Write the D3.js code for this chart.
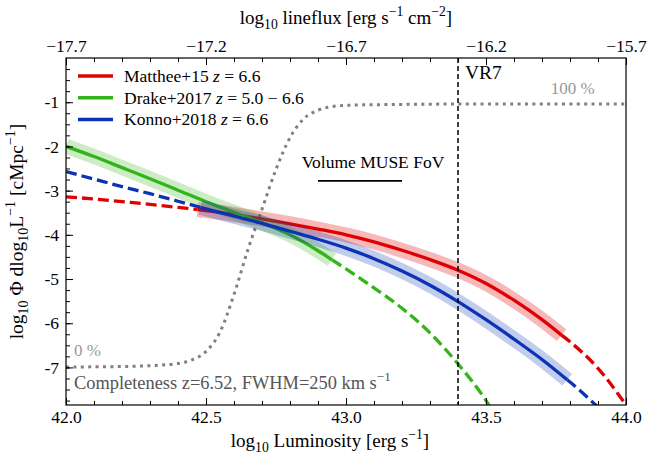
<!DOCTYPE html>
<html><head><meta charset="utf-8">
<script src="https://cdn.jsdelivr.net/npm/d3@7"></script>
<style>body{margin:0;background:#fff}</style>
</head><body>
<svg id="c" width="658" height="459"></svg>
<script>
// ---------- data ----------
const lumGrid = [42.0,42.1,42.2,42.3,42.4,42.5,42.6,42.7,42.8,42.9,43.0,43.1,43.2,43.3,43.4,43.5,43.6,43.7,43.8,43.9,44.0];
const matthee15 = [-3.14,-3.19,-3.25,-3.31,-3.38,-3.45,-3.54,-3.64,-3.75,-3.87,-4.00,-4.16,-4.35,-4.56,-4.80,-5.10,-5.48,-5.92,-6.42,-7.02,-7.85];
const drakeLum = [42.0,42.1,42.2,42.3,42.4,42.5,42.6,42.7,42.8,42.9,43.0,43.1,43.2,43.3,43.4,43.5,43.52];
const drake2017 = [-2.00,-2.23,-2.48,-2.73,-2.99,-3.25,-3.49,-3.73,-4.00,-4.36,-4.77,-5.20,-5.66,-6.22,-6.92,-7.75,-7.95];
const konnoLum = [42.0,42.1,42.2,42.3,42.4,42.5,42.6,42.7,42.8,42.9,43.0,43.1,43.2,43.3,43.4,43.5,43.6,43.7,43.8,43.9];
const konno2018 = [-2.57,-2.74,-2.91,-3.07,-3.24,-3.41,-3.58,-3.74,-3.92,-4.10,-4.30,-4.54,-4.82,-5.14,-5.51,-5.92,-6.36,-6.82,-7.33,-7.90];
const fitRangeMatthee = [42.47, 43.77];
const fitRangeDrake = [42.0, 42.95];
const fitRangeKonno = [42.48, 43.79];
const complLum = [42.0,42.2,42.3,42.4,42.45,42.5,42.55,42.6,42.65,42.7,42.75,42.8,42.85,42.9,42.95,43.0,43.2,43.5,44.0];
const complVal = [-6.99,-6.98,-6.96,-6.91,-6.83,-6.64,-6.20,-5.35,-4.33,-3.42,-2.52,-1.80,-1.37,-1.18,-1.10,-1.07,-1.05,-1.04,-1.04];
const vr7Lum = 43.4;
const museVolume = -2.78;
const museRange = [42.9, 43.2];
const xTicks = [42.0,42.5,43.0,43.5,44.0];
const yTicks = [-1,-2,-3,-4,-5,-6,-7];
const topTicks = [-17.7,-17.2,-16.7,-16.2,-15.7];
const legendLabels = [["Matthee+15 ","z"," = 6.6"],["Drake+2017 ","z"," = 5.0 − 6.6"],["Konno+2018 ","z"," = 6.6"]];

// ---------- layout ----------
const W = 658, H = 459;
const m = {l:66, r:32, t:58, b:54};
const pw = W - m.l - m.r, ph = H - m.t - m.b;
const FONT = "Liberation Serif, Times New Roman, serif";
const colors = {red:"#e00000", green:"#33b51a", blue:"#0a33b5"};

const svg = d3.select("#c");
const g = svg.append("g").attr("transform", `translate(${m.l},${m.t})`);
const x = d3.scaleLinear().domain([42,44]).range([0,pw]);
const xTop = d3.scaleLinear().domain([-17.7,-15.7]).range([0,pw]);
const y = d3.scaleLinear().domain([-7.85,0]).range([ph,0]);

svg.append("defs").append("clipPath").attr("id","plotclip")
  .append("rect").attr("width",pw).attr("height",ph);
const plot = g.append("g").attr("clip-path","url(#plotclip)");

function interp(xs, ys, v){
  for(let i=0;i<xs.length-1;i++){
    if(v>=xs[i] && v<=xs[i+1]){ const t=(v-xs[i])/(xs[i+1]-xs[i]); return ys[i]+t*(ys[i+1]-ys[i]); }
  }
  return v<xs[0]? ys[0] : ys[ys.length-1];
}
function seg(xs, ys, lo, hi){
  const pts=[[lo, interp(xs,ys,lo)]];
  xs.forEach((v,i)=>{ if(v>lo+1e-9 && v<hi-1e-9) pts.push([v, ys[i]]); });
  pts.push([hi, interp(xs,ys,hi)]);
  return pts;
}
const line = d3.line().x(d=>x(d[0])).y(d=>y(d[1])).curve(d3.curveMonotoneX);

// completeness curve
plot.append("path").datum(complLum.map((v,i)=>[v, complVal[i]]))
  .attr("d", line).attr("fill","none").attr("stroke","#808080")
  .attr("stroke-width",3).attr("stroke-dasharray","3,4.4");

function series(xs, ys, range, col, bandOp){
  const lo=xs[0], hi=xs[xs.length-1];
  const fit = seg(xs, ys, range[0], range[1]);
  plot.append("path").datum(fit).attr("d",line).attr("fill","none")
    .attr("stroke",col).attr("stroke-opacity",bandOp).attr("stroke-width",15).attr("stroke-linecap","butt");
  if(range[0]>lo+1e-6) plot.append("path").datum(seg(xs,ys,lo,range[0])).attr("d",line).attr("fill","none")
    .attr("stroke",col).attr("stroke-width",3.3).attr("stroke-dasharray","11,5");
  if(range[1]<hi-1e-6) plot.append("path").datum(seg(xs,ys,range[1],hi)).attr("d",line).attr("fill","none")
    .attr("stroke",col).attr("stroke-width",3.3).attr("stroke-dasharray","11,5");
  plot.append("path").datum(fit).attr("d",line).attr("fill","none")
    .attr("stroke",col).attr("stroke-width",3.3);
}
series(lumGrid, matthee15, fitRangeMatthee, colors.red, 0.28);
series(drakeLum, drake2017, fitRangeDrake, colors.green, 0.25);
series(konnoLum, konno2018, fitRangeKonno, colors.blue, 0.25);

// VR7 line
plot.append("line").attr("x1",x(vr7Lum)).attr("x2",x(vr7Lum)).attr("y1",0).attr("y2",ph)
  .attr("stroke","#000").attr("stroke-width",1.5).attr("stroke-dasharray","5,3");
g.append("text").attr("x",x(vr7Lum)+7).attr("y",21).attr("font-family",FONT).attr("font-size",19.5).text("VR7");

// MUSE volume
g.append("line").attr("x1",x(museRange[0])).attr("x2",x(museRange[1])).attr("y1",y(museVolume)).attr("y2",y(museVolume))
  .attr("stroke","#000").attr("stroke-width",1.6);
g.append("text").attr("x",(x(museRange[0])+x(museRange[1]))/2+13).attr("y",y(museVolume)-13)
  .attr("text-anchor","middle").attr("font-family",FONT).attr("font-size",17.5).text("Volume MUSE FoV");

// completeness annotations
g.append("text").attr("x",x(43.81)).attr("y",y(-1.04)-10).attr("text-anchor","middle")
  .attr("font-family",FONT).attr("font-size",17).attr("fill","#999").text("100 %");
g.append("text").attr("x",8).attr("y",y(-6.99)-11)
  .attr("font-family",FONT).attr("font-size",17).attr("fill","#999").text("0 %");

function rich(t, parts, fs){
  let cur=0;
  parts.forEach(p=>{
    const [s,k,it]=p;
    const off = k==='sub'? fs*0.28 : k==='sup' ? -fs*0.42 : 0;
    const ts=t.append("tspan").attr("dy", off-cur).attr("font-size", k==='n'?fs:fs*0.72).text(s);
    if(it) ts.attr("font-style","italic");
    cur=off;
  });
}
const ct = g.append("text").attr("x",8).attr("y",y(-6.99)+22).attr("font-family",FONT).attr("fill","#555");
rich(ct, [["Completeness z=6.52, FWHM=250 km s",'n'],["−1",'sup']], 18.4);

// legend
const legCols=[colors.red,colors.green,colors.blue];
legendLabels.forEach((lab,i)=>{
  const yy = 18 + i*21.7;
  g.append("line").attr("x1",12).attr("x2",47).attr("y1",yy).attr("y2",yy).attr("stroke",legCols[i]).attr("stroke-width",3.5);
  const t=g.append("text").attr("x",58).attr("y",yy+6).attr("font-family",FONT);
  rich(t, [[lab[0],'n'],[lab[1],'n',true],[lab[2],'n']], 17.5);
});

// axes
function styleAxis(sel){
  sel.selectAll("path").remove();
  sel.selectAll("line").attr("stroke","#000").attr("stroke-width",1);
  sel.selectAll("text").attr("font-family",FONT).attr("font-size",17.5).attr("fill","#000");
}
const minorX = d3.range(42.0,44.001,0.1);
const minorY = d3.range(-7.75,-0.001,0.25);
const minorTop = d3.range(-17.7,-15.699,0.1);
g.append("g").attr("transform",`translate(0,${ph})`).call(d3.axisBottom(x).tickValues(minorX).tickSize(-4).tickFormat("")).call(styleAxis);
g.append("g").attr("transform",`translate(0,${ph})`).call(d3.axisBottom(x).tickValues(xTicks).tickSize(-7).tickPadding(6).tickFormat(d3.format(".1f"))).call(styleAxis);
g.append("g").call(d3.axisLeft(y).tickValues(minorY).tickSize(-4).tickFormat("")).call(styleAxis);
g.append("g").call(d3.axisLeft(y).tickValues(yTicks).tickSize(-7).tickPadding(7).tickFormat(d=>String(d))).call(styleAxis);
g.append("g").call(d3.axisTop(xTop).tickValues(minorTop).tickSize(-4).tickFormat("")).call(styleAxis);
g.append("g").call(d3.axisTop(xTop).tickValues(topTicks).tickSize(-7).tickPadding(6).tickFormat(d=>d3.format(".1f")(d).replace("-","−"))).call(styleAxis);
g.append("rect").attr("width",pw).attr("height",ph).attr("fill","none").attr("stroke","#000").attr("stroke-width",1.2);

// axis titles
const bt = svg.append("text").attr("x",m.l+pw/2-16).attr("y",H-12).attr("text-anchor","middle").attr("font-family",FONT);
rich(bt, [["log",'n'],["10",'sub'],[" Luminosity [erg s",'n'],["−1",'sup'],["]",'n']], 19);
const tt = svg.append("text").attr("x",m.l+pw/2).attr("y",24).attr("text-anchor","middle").attr("font-family",FONT);
rich(tt, [["log",'n'],["10",'sub'],[" lineflux [erg s",'n'],["−1",'sup'],[" cm",'n'],["−2",'sup'],["]",'n']], 19);
const lt = svg.append("text").attr("transform",`translate(23,${m.t+ph/2}) rotate(-90)`).attr("text-anchor","middle").attr("font-family",FONT);
rich(lt, [["log",'n'],["10",'sub'],[" Φ dlog",'n'],["10",'sub'],["L",'n'],["−1",'sup'],[" [cMpc",'n'],["−1",'sup'],["]",'n']], 19.5);
</script>
</body></html>
